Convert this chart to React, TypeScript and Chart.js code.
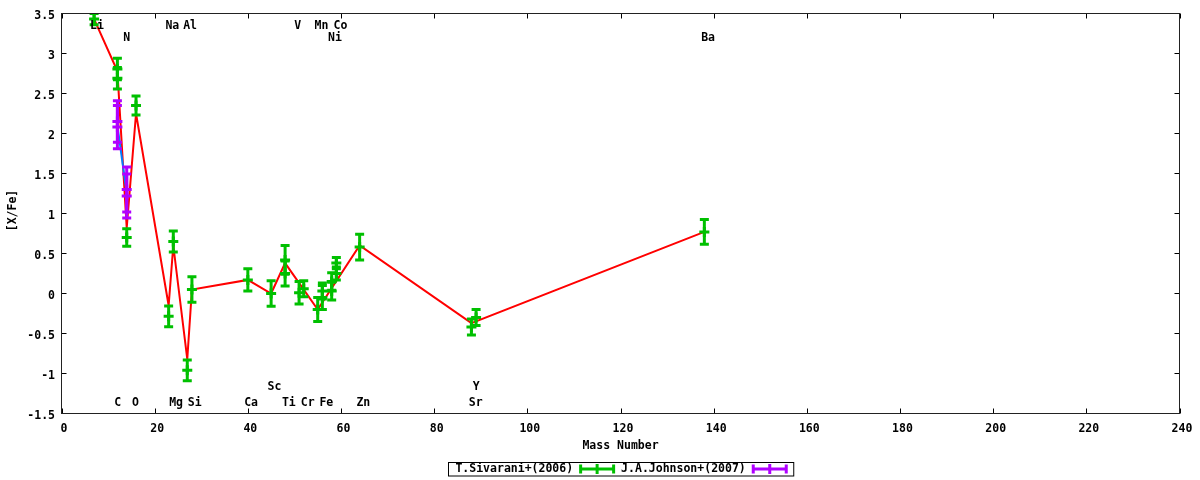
import React, { useEffect, useRef } from "react";
import { Chart, registerables } from "chart.js";

Chart.register(...registerables);

// ---------- data ----------
const sivaraniMass = [7, 12, 12, 14, 16, 23, 24, 27, 28, 40, 45, 48, 48, 51, 52, 55, 56, 56, 58, 58, 59, 59, 64, 88, 89, 138];
const sivaraniValue = [3.43, 2.806, 2.69, 0.7, 2.35, -0.285, 0.65, -0.96, 0.05, 0.17, 0.0, 0.42, 0.25, 0.01, 0.06, -0.2, -0.05, 0.03, 0.15, 0.03, 0.38, 0.25, 0.58, -0.42, -0.3, 0.77];
const sivaraniError = [0.07, 0.134, 0.134, 0.11, 0.12, 0.13, 0.13, 0.13, 0.16, 0.14, 0.16, 0.18, 0.155, 0.14, 0.1, 0.15, 0.15, 0.1, 0.11, 0.11, 0.07, 0.08, 0.16, 0.1, 0.1, 0.155];

const johnsonMass = [12, 12, 14, 14];
const johnsonValue = [2.15, 2.08, 1.3, 1.22];
const johnsonError = [0.26, 0.27, 0.28, 0.275];

const sivaraniLineMass = [7, 12, 14, 16, 23, 24, 27, 28, 40, 45, 48, 55, 64, 88, 138];
const sivaraniLineValue = [3.43, 2.78, 0.82, 2.25, -0.15, 0.6, -0.82, 0.05, 0.17, 0.0, 0.38, -0.2, 0.6, -0.37, 0.77];

const johnsonLineMass = [12, 14];
const johnsonLineValue = [2.1, 1.25];

const elementLabels = ["Li", "N", "Na", "Al", "V", "Mn", "Co", "Ni", "Ba", "C", "O", "Mg", "Si", "Ca", "Sc", "Ti", "Cr", "Fe", "Zn", "Y", "Sr"];
const elementLabelMass = [7.6, 14.0, 23.8, 27.6, 50.7, 55.8, 59.9, 58.7, 138.8, 12.05, 15.9, 24.6, 28.6, 40.7, 45.7, 48.8, 52.85, 56.85, 64.8, 89.0, 88.9];
const elementLabelValue = [3.345, 3.19, 3.345, 3.345, 3.345, 3.345, 3.345, 3.19, 3.19, -1.37, -1.37, -1.37, -1.37, -1.37, -1.17, -1.37, -1.37, -1.37, -1.37, -1.17, -1.37];

const xTickValues = [0, 20, 40, 60, 80, 100, 120, 140, 160, 180, 200, 220, 240];
const yTickValues = [-1.5, -1, -0.5, 0, 0.5, 1, 1.5, 2, 2.5, 3, 3.5];

const seriesNames = ["T.Sivarani+(2006)", "J.A.Johnson+(2007)"];
const xTitle = "Mass Number";
const yTitle = "[X/Fe]";

// ---------- style ----------
const FONT_FAMILY = "'DejaVu Sans Mono', monospace";
const FONT_SIZE = 11.5;
const FONT = `bold ${FONT_SIZE}px ${FONT_FAMILY}`;
const GREEN = "#00c000";
const PURPLE = "#b000ff";
const RED = "#ff0000";
const BLUE = "#0080ff";

function drawErrorGlyph(ctx: CanvasRenderingContext2D, x: number, yTop: number, yBot: number) {
  ctx.beginPath();
  ctx.moveTo(x, yTop);
  ctx.lineTo(x, yBot);
  ctx.moveTo(x - 4.5, yTop);
  ctx.lineTo(x + 4.5, yTop);
  ctx.moveTo(x - 4.5, yBot);
  ctx.lineTo(x + 4.5, yBot);
  ctx.stroke();
}

const errorBarPlugin = {
  id: "errorBars",
  afterDatasetDraw(chart: any, args: any) {
    const ds = chart.data.datasets[args.index];
    if (!ds.errors) return;
    const { ctx, chartArea, scales } = chart;
    ctx.save();
    ctx.beginPath();
    ctx.rect(chartArea.left, chartArea.top, chartArea.right - chartArea.left, chartArea.bottom - chartArea.top);
    ctx.clip();
    ctx.strokeStyle = ds.borderColor;
    ctx.lineWidth = 3;
    ds.data.forEach((p: any, i: number) => {
      const e = ds.errors[i];
      const x = scales.x.getPixelForValue(p.x);
      const y1 = scales.y.getPixelForValue(p.y + e);
      const y2 = scales.y.getPixelForValue(p.y - e);
      drawErrorGlyph(ctx, x, y1, y2);
    });
    ctx.restore();
  },
};

const framePlugin = {
  id: "gnuFrame",
  afterDraw(chart: any) {
    const { ctx, chartArea, scales } = chart;
    const { left, right, top, bottom } = chartArea;
    ctx.save();
    // ticks (inward, mirrored)
    ctx.strokeStyle = "#000";
    ctx.lineWidth = 1;
    ctx.beginPath();
    scales.x.ticks.forEach((t: any) => {
      const x = Math.round(scales.x.getPixelForValue(t.value)) + 0.5;
      ctx.moveTo(x, bottom);
      ctx.lineTo(x, bottom - 5);
      ctx.moveTo(x, top);
      ctx.lineTo(x, top + 5);
    });
    scales.y.ticks.forEach((t: any) => {
      const y = Math.round(scales.y.getPixelForValue(t.value) - 0.5) + 0.5;
      ctx.moveTo(left, y);
      ctx.lineTo(left + 5, y);
      ctx.moveTo(right, y);
      ctx.lineTo(right - 5, y);
    });
    ctx.stroke();
    // border
    ctx.strokeStyle = "#222";
    ctx.strokeRect(left, top, right - left, bottom - top);

    // element labels
    ctx.fillStyle = "#000";
    ctx.font = FONT;
    ctx.textAlign = "center";
    ctx.textBaseline = "middle";
    elementLabels.forEach((lab, i) => {
      ctx.fillText(lab, scales.x.getPixelForValue(elementLabelMass[i]), scales.y.getPixelForValue(elementLabelValue[i]));
    });

    // axis titles
    const cx = (left + right) / 2;
    ctx.fillText(xTitle, cx, 446.5);
    ctx.save();
    ctx.translate(12.8, (top + bottom) / 2 - 3);
    ctx.rotate(-Math.PI / 2);
    ctx.fillText(yTitle, 0, 0);
    ctx.restore();

    // legend
    const colors = [GREEN, PURPLE];
    const textCol = Math.max(...seriesNames.map((s) => ctx.measureText(s).width));
    const sampleLen = 36;
    const itemW = textCol + 6 + sampleLen + 6;
    const boxW = itemW * seriesNames.length;
    const boxL = Math.round(cx - boxW / 2) + 0.5;
    const boxT = 462.5;
    const boxH = 13.5;
    const midY = 469;
    ctx.strokeStyle = "#000";
    ctx.lineWidth = 1;
    ctx.strokeRect(boxL, boxT, boxW, boxH);
    ctx.textAlign = "right";
    seriesNames.forEach((name, i) => {
      const ix = boxL + i * itemW;
      ctx.fillStyle = "#000";
      ctx.fillText(name, ix + textCol, midY);
      const s0 = ix + textCol + 6;
      const s1 = s0 + sampleLen;
      ctx.strokeStyle = colors[i];
      ctx.lineWidth = 3;
      ctx.beginPath();
      ctx.moveTo(s0, midY);
      ctx.lineTo(s1, midY);
      ctx.moveTo(s0 + 1.5, midY - 4.5);
      ctx.lineTo(s0 + 1.5, midY + 4.5);
      ctx.moveTo(s1 - 1.5, midY - 4.5);
      ctx.lineTo(s1 - 1.5, midY + 4.5);
      const m = (s0 + s1) / 2;
      ctx.moveTo(m, midY - 5);
      ctx.lineTo(m, midY + 5);
      ctx.stroke();
    });
    ctx.restore();
  },
};

function toPoints(xs: number[], ys: number[]) {
  return xs.map((x, i) => ({ x, y: ys[i] }));
}

export default function App() {
  const canvasRef = useRef<HTMLCanvasElement | null>(null);

  useEffect(() => {
    if (!canvasRef.current) return;
    const tickFont = { family: FONT_FAMILY, size: FONT_SIZE, weight: "bold" as const };
    const chart = new Chart(canvasRef.current, {
      type: "scatter",
      data: {
        datasets: [
          {
            label: "sivarani-line",
            data: toPoints(sivaraniLineMass, sivaraniLineValue),
            showLine: true,
            borderColor: RED,
            borderWidth: 2,
            pointRadius: 0,
            order: 4,
          } as any,
          {
            label: "johnson-line",
            data: toPoints(johnsonLineMass, johnsonLineValue),
            showLine: true,
            borderColor: BLUE,
            borderWidth: 2,
            pointRadius: 0,
            order: 3,
          } as any,
          {
            label: seriesNames[0],
            data: toPoints(sivaraniMass, sivaraniValue),
            errors: sivaraniError,
            borderColor: GREEN,
            backgroundColor: GREEN,
            pointStyle: "cross",
            pointRadius: 5,
            borderWidth: 3,
            order: 2,
          } as any,
          {
            label: seriesNames[1],
            data: toPoints(johnsonMass, johnsonValue),
            errors: johnsonError,
            borderColor: PURPLE,
            backgroundColor: PURPLE,
            pointStyle: "cross",
            pointRadius: 5,
            borderWidth: 3,
            order: 1,
          } as any,
        ],
      },
      options: {
        animation: false,
        responsive: false,
        devicePixelRatio: 1,
        layout: { padding: { left: 0, right: 20.5, top: 13.5, bottom: 0 } },
        plugins: { legend: { display: false }, tooltip: { enabled: false } },
        scales: {
          x: {
            type: "linear",
            min: 0,
            max: 240,
            afterBuildTicks: (scale: any) => {
              scale.ticks = xTickValues.map((v) => ({ value: v }));
            },
            afterFit: (scale: any) => {
              scale.height = 66.5;
            },
            grid: { display: false, drawTicks: false },
            border: { display: false },
            ticks: {
              font: tickFont,
              color: "#000",
              padding: 9,
              labelOffset: 2.5,
              maxRotation: 0,
              autoSkip: false,
              callback: (v: any) => String(v),
            },
          },
          y: {
            type: "linear",
            min: -1.5,
            max: 3.5,
            afterBuildTicks: (scale: any) => {
              scale.ticks = yTickValues.map((v) => ({ value: v }));
            },
            afterFit: (scale: any) => {
              scale.width = 61.5;
            },
            grid: { display: false, drawTicks: false },
            border: { display: false },
            ticks: {
              font: tickFont,
              color: "#000",
              padding: 6.5,
              labelOffset: 3,
              autoSkip: false,
              callback: (v: any) => String(v),
            },
          },
        },
      },
      plugins: [errorBarPlugin, framePlugin],
    });
    return () => chart.destroy();
  }, []);

  return (
    <div style={{ position: "absolute", left: 0, top: 0, width: 1200, height: 480, background: "#fff" }}>
      <canvas ref={canvasRef} width={1200} height={480} style={{ width: 1200, height: 480, display: "block" }} />
    </div>
  );
}
